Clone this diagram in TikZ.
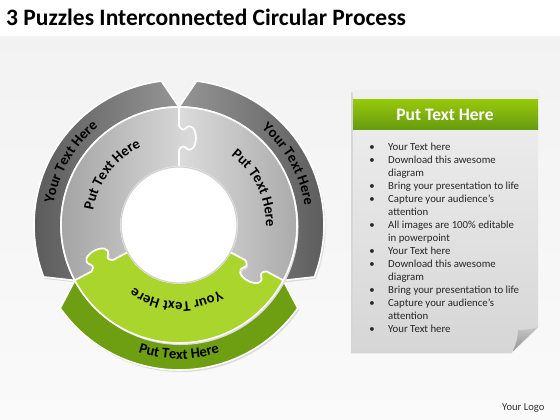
\documentclass[tikz,border=0pt]{standalone}
\usepackage{fontspec}
\setmainfont{Carlito}
\usetikzlibrary{decorations.text}
\definecolor{outdark}{HTML}{5A5A5A}
\definecolor{outlight}{HTML}{959595}
\definecolor{indark}{HTML}{A4A4A4}
\definecolor{inlight}{HTML}{DCDCDC}
\definecolor{gindark}{HTML}{AAD52C}
\definecolor{ginlight}{HTML}{DDF552}
\definecolor{goutdark}{HTML}{6E9E12}
\definecolor{goutlight}{HTML}{A8D232}
\definecolor{hdrtop}{HTML}{96C80A}
\definecolor{hdrbot}{HTML}{669A10}
\definecolor{paneltop}{HTML}{EFEFEF}
\definecolor{panelbot}{HTML}{D6D6D6}
\definecolor{bodytext}{HTML}{262626}
\newcommand\ringfont{\bfseries\fontsize{14.6}{15}\selectfont}
\newcommand\bullfont{\fontsize{10.8}{13}\selectfont}
\tikzset{
  knobout/.style={insert path={([rotate=#1]58,0) -- ([rotate=#1]75,0)
    .. controls ([rotate=#1]78,-2) and ([rotate=#1]80,-4) .. ([rotate=#1]77,-7)
    .. controls ([rotate=#1]72,-12) and ([rotate=#1]78,-17) .. ([rotate=#1]87,-17)
    .. controls ([rotate=#1]96,-17) and ([rotate=#1]102,-12) .. ([rotate=#1]97,-7)
    .. controls ([rotate=#1]94,-4) and ([rotate=#1]96,-2) .. ([rotate=#1]99,0)
    -- ([rotate=#1]118,0)}},
  knobin/.style={insert path={-- ([rotate=#1]99,0)
    .. controls ([rotate=#1]96,-2) and ([rotate=#1]94,-4) .. ([rotate=#1]97,-7)
    .. controls ([rotate=#1]102,-12) and ([rotate=#1]96,-17) .. ([rotate=#1]87,-17)
    .. controls ([rotate=#1]78,-17) and ([rotate=#1]72,-12) .. ([rotate=#1]77,-7)
    .. controls ([rotate=#1]80,-4) and ([rotate=#1]78,-2) .. ([rotate=#1]75,0)
    -- ([rotate=#1]58,0)}},
  piece/.style={draw=white, line width=1.6pt, line join=round,
    preaction={fill=black!14, transform canvas={shift={(1.5,-2)}}}},
  ringtext/.style={decorate, decoration={text along path, text align=center,
    text={|\ringfont|#1}}},
  plain/.style={inner sep=0pt, anchor=base west},
}
\begin{document}
\begin{tikzpicture}[x=1pt,y=1pt]
\useasboundingbox (0,0) rectangle (560,420);
\fill[white] (0,0) rectangle (560,420);
\shade[top color=black!5, bottom color=black!2] (0,0) rectangle (560,383);

\node[plain, font=\bfseries\fontsize{23.5}{26}\selectfont] (title) at (6,394)
  {3 Puzzles Interconnected Circular Process};

\begin{scope}[shift={(179,195)}]
  % outer bands
  \path[piece, left color=outdark, right color=outlight]
    (90:118) -- (97:145) arc[start angle=97, end angle=201, radius=145]
    -- (208:118) arc[start angle=208, end angle=90, radius=118] -- cycle;
  \path[piece, left color=outlight, right color=outdark]
    (-28:118) -- (-21:145) arc[start angle=-21, end angle=83, radius=145]
    -- (90:118) arc[start angle=90, end angle=-28, radius=118] -- cycle;
  \path[piece, left color=goutdark, middle color=goutlight, right color=goutdark]
    (208:118) -- (215:145) arc[start angle=215, end angle=325, radius=145]
    -- (332:118) arc[start angle=332, end angle=208, radius=118] -- cycle;
  % inner puzzle pieces
  \path[piece, left color=indark, right color=inlight]
    [knobout=90] arc[start angle=90, end angle=208, radius=118]
    [knobin=208] arc[start angle=208, end angle=90, radius=58] -- cycle;
  \path[piece, left color=inlight, right color=indark]
    [knobout=-28] arc[start angle=-28, end angle=90, radius=118]
    [knobin=90] arc[start angle=90, end angle=-28, radius=58] -- cycle;
  \path[piece, left color=gindark, middle color=ginlight, right color=gindark]
    [knobout=208] arc[start angle=208, end angle=332, radius=118]
    [knobin=332] arc[start angle=332, end angle=208, radius=58] -- cycle;
  % hole
  \path[fill=white, draw=black!18, line width=1.2pt] (0,0) circle[radius=58];
  % ring texts
  \path[ringtext=Your Text Here] (220:127) arc[start angle=220, end angle=80, radius=127];
  \path[ringtext=Put Text Here] (213:87) arc[start angle=213, end angle=73, radius=87];
  \path[ringtext=Your Text Here] (99:127) arc[start angle=99, end angle=-41, radius=127];
  \path[ringtext=Put Text Here] (96:87) arc[start angle=96, end angle=-44, radius=87];
  \path[ringtext=Your Text Here] (338:77) arc[start angle=338, end angle=198, radius=77];
  \path[ringtext=Put Text Here] (200:134) arc[start angle=200, end angle=340, radius=134];
\end{scope}

% text panel
\path[preaction={fill=black!16, transform canvas={shift={(-2,-2.5)}}},
  top color=paneltop, bottom color=panelbot]
  (353,69) -- (513,69) -- (538,93) -- (538,330) -- (353,330) -- cycle;
\path[top color=black!22, bottom color=black!42]
  (513,69) .. controls (516,76) and (518,83) .. (518,90)
  .. controls (526,90) and (533,91) .. (538,93) -- cycle;
\path[top color=hdrtop, bottom color=hdrbot] (353,290) rectangle (538,320);
\node[font=\bfseries\fontsize{17.5}{18}\selectfont, text=white] (hdr) at (445,305) {Put Text Here};

\foreach [count=\i from 0] \t/\b in {Your Text here/1, Download this awesome/1,
  diagram/0, Bring your presentation to life/1, Capture your audience’s/1,
  attention/0, All images are 100\% editable/1, in powerpoint/0, Your Text here/1,
  Download this awesome/1, diagram/0, Bring your presentation to life/1,
  Capture your audience’s/1, attention/0, Your Text here/1} {
  \node[plain, font=\bullfont, text=bodytext] (line\i) at (388,269.5-13*\i) {\t};
  \ifnum\b=1
    \node[inner sep=0pt, anchor=base, font=\bullfont, text=bodytext] (bul\i)
      at (372,269.5-13*\i) {\textbullet};
  \fi
}

\node[plain, font=\fontsize{10.6}{12}\selectfont, text=black!80] (logo) at (502,9) {Your Logo};
\end{tikzpicture}
\end{document}
